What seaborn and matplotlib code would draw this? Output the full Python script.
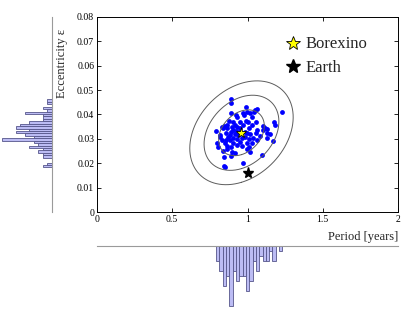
import matplotlib
matplotlib.use("Agg")
import matplotlib.pyplot as plt
import numpy as np
import seaborn as sns

# simulated orbits: period [years] and eccentricity
period = [0.890, 0.890, 0.990, 1.061, 1.043, 0.995, 0.968, 0.893, 1.232, 1.030,
          0.932, 0.879, 0.950, 0.990, 1.056, 1.176, 1.181, 0.844, 0.828, 0.866,
          0.895, 0.932, 1.008, 1.101, 1.128, 1.065, 0.791, 0.857, 0.890, 0.917,
          1.017, 1.056, 1.132, 0.817, 0.873, 0.932, 0.983, 1.008, 1.132, 1.172,
          0.795, 0.851, 0.901, 0.950, 0.995, 1.028, 0.862, 0.893, 0.961, 1.012,
          0.802, 0.839, 0.895, 0.995, 0.844, 0.890, 1.094, 0.844, 0.851, 0.968,
          0.924, 0.939, 0.983, 0.884, 0.906, 0.961, 0.857, 1.039, 1.083, 1.105,
          0.835, 0.917, 0.972, 1.028, 1.017, 1.050, 0.924, 0.866, 0.946, 0.999,
          0.884, 0.932, 1.061, 0.828, 1.005, 0.906, 0.977, 1.116, 1.149, 0.917,
          1.017, 0.866, 0.817, 0.950, 0.901]
ecc = [0.0462, 0.0449, 0.0430, 0.0423, 0.0409, 0.0409, 0.0408, 0.0408, 0.0412, 0.0389,
       0.0391, 0.0375, 0.0371, 0.0373, 0.0371, 0.0371, 0.0357, 0.0353, 0.0350, 0.0343,
       0.0347, 0.0350, 0.0343, 0.0353, 0.0339, 0.0336, 0.0332, 0.0325, 0.0329, 0.0320,
       0.0320, 0.0323, 0.0325, 0.0309, 0.0306, 0.0298, 0.0306, 0.0298, 0.0302, 0.0293,
       0.0284, 0.0284, 0.0284, 0.0288, 0.0282, 0.0282, 0.0271, 0.0265, 0.0271, 0.0265,
       0.0265, 0.0252, 0.0247, 0.0257, 0.0227, 0.0230, 0.0234, 0.0189, 0.0183, 0.0200,
       0.0334, 0.0316, 0.0329, 0.0316, 0.0302, 0.0302, 0.0295, 0.0302, 0.0312, 0.0336,
       0.0343, 0.0357, 0.0357, 0.0357, 0.0405, 0.0418, 0.0398, 0.0357, 0.0329, 0.0323,
       0.0295, 0.0275, 0.0295, 0.0295, 0.0371, 0.0371, 0.0398, 0.0343, 0.0320, 0.0241,
       0.0247, 0.0257, 0.0316, 0.0343, 0.0336]

borexino = (0.96, 0.0325)
earth = (1.0, 0.0161)

# confidence ellipses: spread and correlation of the fit, 68/95/99.7 % levels
sigma_p, sigma_e, rho = 0.10, 0.0062, 0.30
chi2_levels = [2.30, 6.18, 11.8]

x_ticks = [0, 0.5, 1, 1.5, 2]
y_ticks = [0, 0.01, 0.02, 0.03, 0.04, 0.05, 0.06, 0.07, 0.08]

sns.set_style("white")
plt.rcParams["font.family"] = ["Liberation Serif", "DejaVu Serif"]

W, H = 416, 309
fig = plt.figure(figsize=(W / 100, H / 100), dpi=100)

def box(x0, y0, x1, y1):
    # pixel box (top-left origin) -> figure fraction
    return [x0 / W, 1 - y1 / H, (x1 - x0) / W, (y1 - y0) / H]

ax = fig.add_axes(box(97, 17, 398, 212))
ax_l = fig.add_axes(box(0, 17, 52, 212))
ax_b = fig.add_axes(box(97, 246, 398, 309))

# ellipses
cov = np.array([[sigma_p**2, rho * sigma_p * sigma_e],
                [rho * sigma_p * sigma_e, sigma_e**2]])
vals, vecs = np.linalg.eigh(cov)
t = np.linspace(0, 2 * np.pi, 300)
for k in chi2_levels:
    circ = np.vstack([np.cos(t), np.sin(t)]) * np.sqrt(vals * k)[:, None]
    pts = vecs @ circ
    ax.plot(borexino[0] + pts[0], borexino[1] + pts[1], color="#5c5c5c", lw=0.7)

sns.scatterplot(x=period, y=ecc, ax=ax, color="#0000ff", s=12, linewidth=0)
ax.plot(*borexino, marker="*", color="#ffff00", mec="black", mew=0.6, ms=8,
        ls="none", label="Borexino")
ax.plot(*earth, marker="*", color="black", ms=8, ls="none", label="Earth")

ax.set_xlim(0, 2)
ax.set_ylim(0, 0.08)
ax.set_xticks(x_ticks)
ax.set_yticks(y_ticks)
ax.set_xticklabels([f"{v:g}" for v in x_ticks])
ax.set_yticklabels([f"{v:g}" for v in y_ticks])
ax.tick_params(direction="in", length=3, width=0.6, labelsize=7, pad=2,
               top=True, right=True, bottom=True, left=True, colors="black")
for s in ax.spines.values():
    s.set_color("black")
    s.set_linewidth(0.7)
ax.set_xlabel("Period [years]", fontsize=9, loc="right", labelpad=5)
ax.set_ylabel("Eccentricity ε", fontsize=9)
ax.yaxis.set_label_coords(-0.095, 0.76)
ax.legend(loc="upper left", bbox_to_anchor=(0.60, 0.935), frameon=False,
          fontsize=12, handletextpad=0.3, borderaxespad=0.0,
          labelspacing=0.45, markerscale=1.35, handlelength=1.0)

# marginal histograms
bar_kw = dict(color="#bcbcf4", edgecolor="#55558a", linewidth=0.6, alpha=1)
sns.histplot(y=ecc, bins=28, ax=ax_l, **bar_kw)
sns.histplot(x=period, bins=20, ax=ax_b, **bar_kw)

cnt_e = np.histogram(ecc, bins=28)[0].max()
cnt_p = np.histogram(period, bins=20)[0].max()
ax_l.set_xlim(cnt_e * 1.04, 0)
ax_l.set_ylim(0, 0.08)
ax_b.set_xlim(0, 2)
ax_b.set_ylim(cnt_p * 1.05, 0)

for a, keep in ((ax_l, "right"), (ax_b, "top")):
    for name, s in a.spines.items():
        s.set_visible(name == keep)
        s.set_color("#9a9a9a")
        s.set_linewidth(0.8)
    a.set_xticks([])
    a.set_yticks([])
    a.set_xlabel("")
    a.set_ylabel("")
    a.patch.set_alpha(0)

fig.savefig("out.png", dpi=100)
plt.close(fig)
